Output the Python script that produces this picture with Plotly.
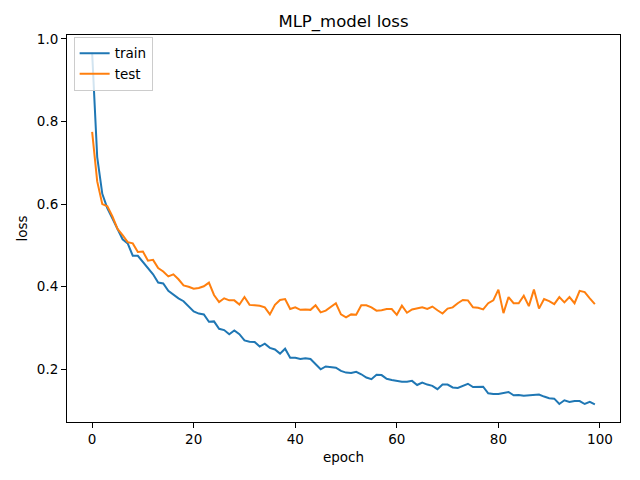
import plotly.graph_objects as go

epochs = list(range(100))
train_loss = [0.967, 0.714, 0.625, 0.59, 0.565, 0.54, 0.515, 0.505, 0.475, 0.475,
              0.46, 0.445, 0.43, 0.41, 0.408, 0.39, 0.38, 0.372, 0.365, 0.352,
              0.34, 0.335, 0.333, 0.315, 0.316, 0.298, 0.295, 0.285, 0.294, 0.285,
              0.27, 0.267, 0.266, 0.255, 0.262, 0.252, 0.248, 0.238, 0.25, 0.228,
              0.228, 0.225, 0.227, 0.225, 0.212, 0.2, 0.207, 0.205, 0.204, 0.196,
              0.192, 0.191, 0.194, 0.188, 0.18, 0.176, 0.187, 0.186, 0.177, 0.174,
              0.172, 0.17, 0.17, 0.172, 0.162, 0.168, 0.163, 0.16, 0.152, 0.163,
              0.163, 0.156, 0.155, 0.16, 0.165, 0.157, 0.158, 0.158, 0.142, 0.14,
              0.14, 0.142, 0.145, 0.137, 0.138, 0.136, 0.137, 0.137, 0.139, 0.134,
              0.13, 0.129, 0.116, 0.125, 0.121, 0.123, 0.123, 0.116, 0.121, 0.115]
test_loss = [0.775, 0.655, 0.6, 0.595, 0.57, 0.54, 0.525, 0.508, 0.505, 0.484,
             0.485, 0.463, 0.465, 0.445, 0.437, 0.425, 0.43, 0.418, 0.403, 0.4,
             0.395, 0.397, 0.401, 0.41, 0.38, 0.363, 0.372, 0.367, 0.367, 0.357,
             0.375, 0.356, 0.355, 0.354, 0.35, 0.333, 0.356, 0.368, 0.37, 0.346,
             0.35, 0.344, 0.345, 0.344, 0.355, 0.338, 0.342, 0.35, 0.36, 0.333,
             0.326, 0.333, 0.332, 0.355, 0.355, 0.35, 0.342, 0.343, 0.346, 0.346,
             0.332, 0.354, 0.337, 0.345, 0.347, 0.35, 0.346, 0.352, 0.343, 0.335,
             0.347, 0.35, 0.36, 0.368, 0.367, 0.35, 0.349, 0.345, 0.36, 0.367,
             0.393, 0.336, 0.375, 0.36, 0.36, 0.378, 0.353, 0.393, 0.347, 0.37,
             0.365, 0.358, 0.375, 0.362, 0.375, 0.36, 0.39, 0.387, 0.372, 0.358]
x_ticks = [0, 20, 40, 60, 80, 100]
y_ticks = [0.2, 0.4, 0.6, 0.8, 1.0]

fig = go.Figure()
fig.add_trace(go.Scatter(x=epochs, y=train_loss, mode="lines", name="train",
                         line=dict(color="#1f77b4", width=2)))
fig.add_trace(go.Scatter(x=epochs, y=test_loss, mode="lines", name="test",
                         line=dict(color="#ff7f0e", width=2)))

allv = train_loss + test_loss
ymin, ymax = min(allv), max(allv)
pad = 0.05 * (ymax - ymin)
xpad = 0.05 * (epochs[-1] - epochs[0])

axis_common = dict(showline=True, linecolor="black", linewidth=1, mirror=True,
                   ticks="outside", ticklen=5, tickcolor="black", showgrid=False,
                   zeroline=False, automargin=False,
                   tickfont=dict(size=13.5, color="black"))

fig.update_layout(
    width=640, height=480,
    paper_bgcolor="white", plot_bgcolor="white",
    font=dict(family="DejaVu Sans", size=13.5, color="black"),
    margin=dict(l=67, r=20, t=35, b=58, autoexpand=False),
    title=dict(text="MLP_model loss", x=0.5, xref="paper", xanchor="center",
               y=0.956, yanchor="middle", font=dict(size=16.5), automargin=False),
    xaxis=dict(range=[epochs[0] - xpad, epochs[-1] + xpad], tickvals=x_ticks,
               title=dict(text="epoch", standoff=6, font=dict(size=13.5)), **axis_common),
    yaxis=dict(range=[ymin - pad, ymax + pad], tickvals=y_ticks, tickformat=".1f",
               title=dict(text="loss", standoff=6, font=dict(size=13.5)), **axis_common),
    legend=dict(x=0.012, y=0.995, xanchor="left", yanchor="top",
                bgcolor="rgba(255,255,255,0.8)", bordercolor="#cccccc", borderwidth=1,
                font=dict(size=13.5), itemwidth=30),
    showlegend=True,
)

fig.write_html("out.html", config={"displayModeBar": False},
               post_script="document.body.style.margin='0';")
